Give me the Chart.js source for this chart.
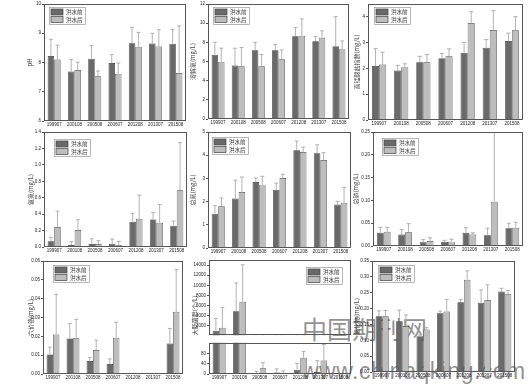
<!DOCTYPE html>
<html>
<head>
<meta charset="utf-8">
<script src="https://cdn.jsdelivr.net/npm/chart.js@4.4.1/dist/chart.umd.min.js"></script>
<style>
  body { margin: 0; width: 532px; height: 384px; background: #fff; position: relative; overflow: hidden; }
  canvas { position: absolute; }
  .wm { position: absolute; color: rgba(95, 95, 95, 0.7); white-space: nowrap; line-height: 1; }
</style>
</head>
<body>
<div class="wm" style="left:302px;top:310px;font:25px 'Noto Sans CJK SC';letter-spacing:0px;">中国期刊网</div>
<div class="wm" style="left:302px;top:358px;font:23px 'Liberation Sans';letter-spacing:0.5px;">www.chinaqking.com</div>
<script>
const dates = ["199907", "200108", "200508", "200607", "201208", "201307", "201508"];
const seriesNames = ["洪水前", "洪水后"];

// pH
const phPre = [8.22, 7.69, 8.13, 7.98, 8.66, 8.65, 8.64];
const phPreErr = [0.57, 0.41, 0.45, 0.29, 0.54, 0.35, 0.49];
const phPost = [8.1, 7.74, 7.53, 7.61, 8.54, 8.55, 7.64];
const phPostErr = [0.49, 0.27, 0.18, 0.37, 0.49, 0.57, 1.61];
const phTicks = [6, 7, 8, 9, 10];

// 溶解氧
const doPre = [6.69, 5.58, 7.18, 7.18, 8.64, 8.12, 7.6];
const doPreErr = [1.32, 1.81, 0.83, 0.59, 0.9, 0.48, 3.08];
const doPost = [5.96, 5.5, 5.5, 6.24, 8.67, 8.47, 7.29];
const doPostErr = [1.43, 1.96, 1.23, 0.96, 1.77, 0.73, 0.86];
const doTicks = [0, 2, 4, 6, 8, 10, 12];

// 高锰酸盐指数
const codPre = [2.09, 1.92, 2.24, 2.4, 2.61, 2.8, 3.06];
const codPreErr = [0.68, 0.2, 0.23, 0.18, 0.4, 0.32, 0.31];
const codPost = [2.15, 2.05, 2.24, 2.47, 3.76, 3.49, 3.48];
const codPostErr = [0.48, 0.13, 0.3, 0.29, 0.44, 0.75, 0.53];
const codTicks = [0, 1, 2, 3, 4];

// 氨氮
const nhPre = [0.069, 0.024, 0.036, 0.04, 0.308, 0.336, 0.259];
const nhPreErr = [0.048, 0.041, 0.064, 0.057, 0.101, 0.085, 0.057];
const nhPost = [0.243, 0.206, 0.036, 0.02, 0.344, 0.296, 0.69];
const nhPostErr = [0.194, 0.126, 0.041, 0.049, 0.288, 0.222, 0.58];
const nhTicks = [0, 0.2, 0.4, 0.6, 0.8, 1.0, 1.2, 1.4];

// 总氮
const tnPre = [1.48, 2.13, 2.84, 2.51, 4.21, 4.08, 1.87];
const tnPreErr = [0.34, 0.79, 0.18, 0.29, 0.4, 0.37, 0.14];
const tnPost = [1.8, 2.41, 2.73, 3.02, 4.14, 3.79, 1.95];
const tnPostErr = [0.36, 0.65, 0.36, 0.16, 0.21, 0.32, 0.66];
const tnTicks = [0, 1, 2, 3, 4, 5];

// 总磷
const tpPre = [0.029, 0.025, 0.008, 0.009, 0.029, 0.0235, 0.039];
const tpPreErr = [0.012, 0.011, 0.006, 0.0035, 0.011, 0.0155, 0.011];
const tpPost = [0.031, 0.03, 0.011, 0.0095, 0.025, 0.097, 0.04];
const tpPostErr = [0.01, 0.019, 0.007, 0.0055, 0.004, 0.16, 0.012];
const tpTicks = [0, 0.05, 0.1, 0.15, 0.2, 0.25];

// 六价铬
const crPre = [0.0104, 0.0189, 0.0069, 0.0053, null, null, 0.0162];
const crPreErr = [0.0039, 0.0079, 0.0019, 0.0027, null, null, 0.008];
const crPost = [0.021, 0.019, 0.0127, 0.0192, null, null, 0.033];
const crPostErr = [0.0213, 0.01, 0.0053, 0.0083, null, null, 0.0224];
const crTicks = [0, 0.01, 0.02, 0.03, 0.04, 0.05, 0.06];

// 大肠菌群 (broken axis)
const colPre = [1057, 4890, 3.7, 6, 16, 8, null];
const colPreErr = [2388, 5590, 6.3, 14, 25, 44, null];
const colPost = [1623, 6775, 22, 5, 63, 53, null];
const colPostErr = [4022, 7285, 22, 7, 25, 62, null];
const colTicksHigh = [2000, 4000, 6000, 8000, 10000, 12000, 14000];
const colTicksLow = [0, 20, 40, 60, 80, 100];

// 氟化物
const fPre = [0.176, 0.16, 0.113, 0.185, 0.22, 0.218, 0.254];
const fPreErr = [0.017, 0.035, 0.004, 0.007, 0.009, 0.041, 0.01];
const fPost = [0.176, 0.145, 0.134, 0.191, 0.291, 0.227, 0.245];
const fPostErr = [0.018, 0.035, 0.006, 0.038, 0.028, 0.048, 0.012];
const fTicks = [0, 0.05, 0.1, 0.15, 0.2, 0.25, 0.3, 0.35];

const DARK = "#6a6a6a";
const LIGHT = "#bdbdbd";
const TICK_FONT = { family: "'Liberation Sans', sans-serif", size: 4.5 };
const CJK = "'Noto Sans CJK SC', sans-serif";

// error bars, frame and in-plot legend
const panelDecor = {
  id: "panelDecor",
  afterDatasetsDraw(chart, args, opts) {
    const { ctx, chartArea: a } = chart;
    const y = chart.scales.y;
    ctx.save();
    ctx.beginPath();
    ctx.rect(a.left, a.top, a.right - a.left, a.bottom - a.top);
    ctx.clip();
    ctx.strokeStyle = "#a0a0a0";
    ctx.lineWidth = 0.8;
    opts.errs.forEach((errs, di) => {
      const values = chart.data.datasets[di].data;
      chart.getDatasetMeta(di).data.forEach((bar, i) => {
        if (values[i] == null || errs[i] == null) return;
        const top = y.getPixelForValue(values[i] + errs[i]);
        const cw = bar.width * 0.3;
        ctx.beginPath();
        ctx.moveTo(bar.x, bar.y);
        ctx.lineTo(bar.x, top);
        ctx.moveTo(bar.x - cw, top);
        ctx.lineTo(bar.x + cw, top);
        ctx.stroke();
      });
    });
    ctx.restore();

    ctx.save();
    ctx.strokeStyle = "#555";
    ctx.lineWidth = 1;
    ctx.strokeRect(Math.round(a.left) + 0.5, Math.round(a.top) + 0.5,
      Math.round(a.right - a.left) - 1, Math.round(a.bottom - a.top) - 1);

    if (opts.legend) {
      const bw = 36, bh = 17;
      const bx = opts.legend.right != null ? a.right - opts.legend.right - bw : a.left + opts.legend.dx;
      const by = a.top + opts.legend.dy;
      ctx.strokeStyle = "#999";
      ctx.lineWidth = 0.7;
      ctx.strokeRect(bx + 0.5, by + 0.5, bw, bh);
      ctx.font = "5.5px " + CJK;
      ctx.textBaseline = "middle";
      [DARK, LIGHT].forEach((c, k) => {
        const ry = by + 2 + k * 7.5;
        ctx.fillStyle = c;
        ctx.fillRect(bx + 2, ry, 12, 6);
        ctx.strokeStyle = "#444";
        ctx.strokeRect(bx + 2, ry, 12, 6);
        ctx.fillStyle = "#333";
        ctx.fillText(seriesNames[k], bx + 17, ry + 3.2);
      });
    }
    ctx.restore();
  },
};

function addPanel(p) {
  const padTop = p.padTop != null ? p.padTop : 4;
  const padRight = 2;
  const xh = p.showX === false ? 0 : 8;
  const canvas = document.createElement("canvas");
  canvas.width = p.yAxisW + p.w + padRight;
  canvas.height = padTop + p.h + xh;
  canvas.style.left = p.left - p.yAxisW + "px";
  canvas.style.top = p.top - padTop + "px";
  document.body.appendChild(canvas);

  new Chart(canvas, {
    type: "bar",
    data: {
      labels: dates,
      datasets: [
        { label: seriesNames[0], data: p.pre, backgroundColor: DARK, borderColor: "#333", borderWidth: 0.7 },
        { label: seriesNames[1], data: p.post, backgroundColor: LIGHT, borderColor: "#444", borderWidth: 0.7 },
      ],
    },
    options: {
      responsive: false,
      animation: false,
      datasets: { bar: { categoryPercentage: 0.64, barPercentage: 1 } },
      layout: { padding: { top: padTop, right: padRight, left: 0, bottom: 0 } },
      plugins: {
        legend: { display: false },
        tooltip: { enabled: false },
        panelDecor: { errs: [p.preErr, p.postErr], legend: p.legend },
      },
      scales: {
        x: {
          display: p.showX !== false,
          grid: { display: false, drawTicks: false },
          border: { display: false },
          ticks: { font: TICK_FONT, color: "#222", padding: 1.5, maxRotation: 0, autoSkip: false },
          afterFit: (s) => { s.height = xh; },
        },
        y: {
          min: p.min,
          max: p.max,
          afterBuildTicks: (s) => { s.ticks = p.ticks.map((v) => ({ value: v })); },
          ticks: {
            font: TICK_FONT,
            color: "#222",
            padding: 1,
            callback: (v) => (p.decimals ? Number(v).toFixed(p.decimals) : String(v)),
          },
          grid: { drawOnChartArea: false, tickLength: 2, color: "#555" },
          border: { display: false },
          title: {
            display: !!p.title,
            text: p.title,
            align: p.titleAlign || "center",
            color: "#444",
            padding: 0,
            font: { family: CJK, size: 6 },
          },
          afterFit: (s) => { s.width = p.yAxisW; },
        },
      },
    },
    plugins: [panelDecor],
  });
}

addPanel({ left: 44, top: 4, w: 142, h: 117, yAxisW: 18, min: 6, max: 10, ticks: phTicks,
  title: "pH", pre: phPre, preErr: phPreErr, post: phPost, postErr: phPostErr, legend: { dx: 5, dy: 3 } });
addPanel({ left: 208, top: 4, w: 141, h: 115, yAxisW: 19, min: 0, max: 12, ticks: doTicks,
  title: "溶解氧(mg/L)", pre: doPre, preErr: doPreErr, post: doPost, postErr: doPostErr, legend: { dx: 5, dy: 3 } });
addPanel({ left: 368, top: 4, w: 155, h: 116, yAxisW: 15, min: 0, max: 4.5, ticks: codTicks,
  title: "高锰酸盐指数(mg/L)", pre: codPre, preErr: codPreErr, post: codPost, postErr: codPostErr, legend: { dx: 6, dy: 3 } });

addPanel({ left: 44, top: 132, w: 143, h: 115, yAxisW: 17, min: 0, max: 1.4, ticks: nhTicks, decimals: 1,
  title: "氨氮(mg/L)", pre: nhPre, preErr: nhPreErr, post: nhPost, postErr: nhPostErr, legend: { dx: 10, dy: 7 } });
addPanel({ left: 208, top: 132, w: 143, h: 116, yAxisW: 19, min: 0, max: 5, ticks: tnTicks,
  title: "总氮(mg/L)", pre: tnPre, preErr: tnPreErr, post: tnPost, postErr: tnPostErr, legend: { dx: 4, dy: 5 } });
addPanel({ left: 373, top: 132, w: 150, h: 114, yAxisW: 21, min: 0, max: 0.25, ticks: tpTicks, decimals: 2,
  title: "总磷(mg/L)", pre: tpPre, preErr: tpPreErr, post: tpPost, postErr: tpPostErr, legend: { dx: 9, dy: 6 } });

addPanel({ left: 43, top: 261, w: 140, h: 113, yAxisW: 16, min: 0, max: 0.06, ticks: crTicks, decimals: 2,
  title: "六价铬(mg/L)", pre: crPre, preErr: crPreErr, post: crPost, postErr: crPostErr, legend: { dx: 10, dy: 4 } });
addPanel({ left: 209, top: 260, w: 142, h: 79, yAxisW: 18, min: 150, max: 15000, ticks: colTicksHigh,
  showX: false, title: "大肠菌群(个/L)", titleAlign: "start",
  pre: colPre, preErr: colPreErr, post: colPost, postErr: colPostErr, legend: { right: 9, dy: 7 } });
addPanel({ left: 209, top: 341, w: 142, h: 33, yAxisW: 18, padTop: 2, min: 0, max: 122, ticks: colTicksLow,
  title: "", pre: colPre, preErr: colPreErr, post: colPost, postErr: colPostErr });
addPanel({ left: 372, top: 261, w: 143, h: 111, yAxisW: 19, min: 0, max: 0.35, ticks: fTicks, decimals: 2,
  title: "氟化物(mg/L)", pre: fPre, preErr: fPreErr, post: fPost, postErr: fPostErr, legend: { dx: 6, dy: 4 } });
</script>
</body>
</html>
